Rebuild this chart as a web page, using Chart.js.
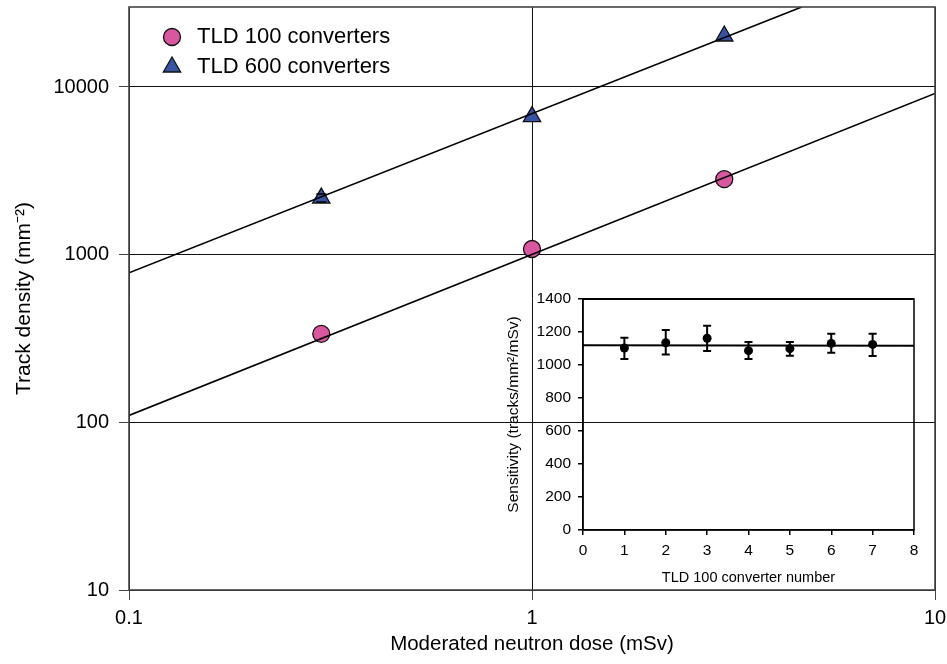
<!DOCTYPE html>
<html>
<head>
<meta charset="utf-8">
<script src="https://cdn.jsdelivr.net/npm/chart.js@4.4.1/dist/chart.umd.min.js"></script>
<style>
  html, body { margin: 0; padding: 0; background: #fff; }
  #wrap { position: relative; width: 947px; height: 664px; }
  #main { position: absolute; left: 0; top: 0; }
  #inset { position: absolute; left: 490px; top: 285px; }
</style>
</head>
<body>
<div id="wrap">
  <canvas id="main" width="947" height="664"></canvas>
  <canvas id="inset" width="440" height="310"></canvas>
</div>
<script>
// main chart data
const doses = [0.3, 1, 3];
const tld100 = [337, 1081, 2822];
const tld600 = [2175, 6660, 20140];
const tld600ErrLow = [2060, null, null];
const tld600ErrHigh = [2300, null, null];
const fit100Dose = [0.1, 10];
const fit100 = [110, 9150];
const fit600Dose = [0.1, 4.67];
const fit600 = [780, 30000];
const xTicks = [0.1, 1, 10];
const yTicks = [10, 100, 1000, 10000];

// inset data
const converters = [1, 2, 3, 4, 5, 6, 7];
const sensitivity = [1103, 1135, 1162, 1087, 1099, 1131, 1125];
const sensLow = [1036, 1063, 1085, 1036, 1056, 1075, 1054];
const sensHigh = [1165, 1212, 1238, 1139, 1139, 1190, 1190];
const sensFitX = [0, 8];
const sensFit = [1120, 1117];

const family = '"Liberation Sans", Arial, sans-serif';
Chart.defaults.font.family = family;
Chart.defaults.color = "#000";

function toPoints(xs, ys) {
  return xs.map((x, i) => ({ x: x, y: ys[i] }));
}

// keep the plot area where it is, whatever the end labels want
function noPad(s) {
  s.paddingTop = 0;
  s.paddingBottom = 0;
  s.paddingLeft = 0;
  s.paddingRight = 0;
}

// error bars, drawn from the dataset's errLow / errHigh through the y scale
function drawErrors(chart, behind) {
  const ctx = chart.ctx;
  const yScale = chart.scales.y;
  chart.data.datasets.forEach((ds, di) => {
    if (!ds.errLow || !!ds.errBehind !== behind) return;
    const meta = chart.getDatasetMeta(di);
    ctx.save();
    ctx.strokeStyle = "#000";
    ctx.lineWidth = ds.errWidth || 1.5;
    meta.data.forEach((pt, i) => {
      const lo = ds.errLow[i];
      const hi = ds.errHigh[i];
      if (lo == null) return;
      const x = pt.x;
      const y1 = yScale.getPixelForValue(lo);
      const y2 = yScale.getPixelForValue(hi);
      const c = ds.capHalf || 4;
      ctx.beginPath();
      if (ds.errStem !== false) {
        ctx.moveTo(x, y1);
        ctx.lineTo(x, y2);
      }
      ctx.moveTo(x - c, y1);
      ctx.lineTo(x + c, y1);
      ctx.moveTo(x - c, y2);
      ctx.lineTo(x + c, y2);
      ctx.stroke();
    });
    ctx.restore();
  });
}

const errorBars = {
  id: "errorBars",
  beforeDatasetsDraw(chart) { drawErrors(chart, true); },
  afterDatasetsDraw(chart) { drawErrors(chart, false); }
};

function boxPlugin(color, width, topWidth) {
  return {
    id: "box",
    afterDraw(chart) {
      const { ctx, chartArea: a } = chart;
      ctx.save();
      ctx.strokeStyle = color;
      ctx.lineWidth = width;
      ctx.strokeRect(a.left, a.top, a.right - a.left, a.bottom - a.top);
      if (topWidth) {
        ctx.lineWidth = topWidth;
        ctx.beginPath();
        ctx.moveTo(a.left, a.top);
        ctx.lineTo(a.right, a.top);
        ctx.stroke();
      }
      ctx.restore();
    }
  };
}

// legend in the upper left of the plot
const insideLegend = {
  id: "insideLegend",
  afterDraw(chart) {
    const ctx = chart.ctx;
    const items = [2, 3];
    ctx.save();
    ctx.font = "22px " + family;
    ctx.textBaseline = "middle";
    items.forEach((di, k) => {
      const ds = chart.data.datasets[di];
      const cx = 172;
      const cy = 37 + k * 30;
      ctx.fillStyle = ds.backgroundColor;
      ctx.strokeStyle = ds.borderColor;
      ctx.lineWidth = ds.borderWidth;
      ctx.beginPath();
      if (ds.pointStyle === "triangle") {
        const r = ds.pointRadius;
        for (let j = 0; j < 3; j++) {
          const ang = j * 2 * Math.PI / 3;
          const px = cx + Math.sin(ang) * r;
          const py = cy - Math.cos(ang) * r;
          if (j === 0) ctx.moveTo(px, py); else ctx.lineTo(px, py);
        }
        ctx.closePath();
      } else {
        ctx.arc(cx, cy, ds.pointRadius, 0, Math.PI * 2);
      }
      ctx.fill();
      ctx.stroke();
      ctx.fillStyle = "#000";
      ctx.fillText(ds.label, 197, cy);
    });
    ctx.restore();
  }
};

new Chart(document.getElementById("main"), {
  type: "scatter",
  data: {
    datasets: [
      {
        label: "fit TLD 100",
        data: toPoints(fit100Dose, fit100),
        showLine: true,
        borderColor: "#000",
        borderWidth: 1.6,
        pointRadius: 0
      },
      {
        label: "fit TLD 600",
        data: toPoints(fit600Dose, fit600),
        showLine: true,
        borderColor: "#000",
        borderWidth: 1.6,
        pointRadius: 0
      },
      {
        label: "TLD 100 converters",
        data: toPoints(doses, tld100),
        pointStyle: "circle",
        pointRadius: 8.5,
        backgroundColor: "#D8579F",
        borderColor: "#111",
        borderWidth: 1.3
      },
      {
        label: "TLD 600 converters",
        data: toPoints(doses, tld600),
        pointStyle: "triangle",
        pointRadius: 10,
        backgroundColor: "#3754A4",
        borderColor: "#111",
        borderWidth: 1.3,
        errLow: tld600ErrLow,
        errHigh: tld600ErrHigh,
        errStem: false,
        capHalf: 5
      }
    ]
  },
  options: {
    responsive: false,
    animation: false,
    devicePixelRatio: 1,
    layout: { autoPadding: false, padding: { top: 7, right: 12, left: 0, bottom: 0 } },
    plugins: { legend: { display: false }, tooltip: { enabled: false } },
    scales: {
      x: {
        type: "logarithmic",
        min: 0.1,
        max: 10,
        afterBuildTicks: (s) => { s.ticks = xTicks.map((v) => ({ value: v })); },
        afterFit: (s) => { s.height = 74; noPad(s); },
        ticks: {
          callback: (v) => String(v),
          font: { size: 20 },
          padding: 6,
          maxRotation: 0,
          autoSkip: false
        },
        grid: { color: "#111", lineWidth: 1, tickLength: 10, tickColor: "#444" },
        border: { display: false },
        title: {
          display: true,
          text: "Moderated neutron dose (mSv)",
          font: { size: 20.5 },
          padding: { top: 0, bottom: 7 }
        }
      },
      y: {
        type: "logarithmic",
        min: 10,
        max: 30000,
        afterBuildTicks: (s) => { s.ticks = yTicks.map((v) => ({ value: v })); },
        afterFit: (s) => { s.width = 129; noPad(s); },
        ticks: {
          callback: (v) => String(v),
          font: { size: 20 },
          padding: 10,
          autoSkip: false
        },
        grid: { color: "#111", lineWidth: 1, tickLength: 10, tickColor: "#444" },
        border: { display: false },
        title: {
          display: true,
          text: "Track density (mm\u207B\u00B2)",
          font: { size: 21 },
          padding: { top: 12, bottom: 0 }
        }
      }
    }
  },
  plugins: [errorBars, boxPlugin("#444", 1.6), insideLegend]
});

new Chart(document.getElementById("inset"), {
  type: "scatter",
  data: {
    datasets: [
      {
        label: "fit",
        data: toPoints(sensFitX, sensFit),
        showLine: true,
        borderColor: "#000",
        borderWidth: 2,
        pointRadius: 0
      },
      {
        label: "Sensitivity",
        data: toPoints(converters, sensitivity),
        pointRadius: 4.5,
        backgroundColor: "#000",
        borderColor: "#000",
        borderWidth: 0,
        errLow: sensLow,
        errHigh: sensHigh,
        errWidth: 2,
        capHalf: 4
      }
    ]
  },
  options: {
    responsive: false,
    animation: false,
    devicePixelRatio: 1,
    layout: { autoPadding: false, padding: { top: 14, right: 16, left: 0, bottom: 0 } },
    plugins: { legend: { display: false }, tooltip: { enabled: false } },
    scales: {
      x: {
        type: "linear",
        min: 0,
        max: 8,
        afterFit: (s) => { s.height = 65; noPad(s); },
        ticks: { stepSize: 1, font: { size: 15.5 }, padding: 6, maxRotation: 0, callback: (v) => String(v) },
        grid: { drawOnChartArea: false, tickLength: 5, color: "#000", lineWidth: 1.5 },
        border: { color: "#000", width: 1.5 },
        title: {
          display: true,
          text: "TLD 100 converter number",
          font: { size: 14.5 },
          padding: { top: 0, bottom: 8 }
        }
      },
      y: {
        type: "linear",
        min: 0,
        max: 1400,
        afterFit: (s) => { s.width = 93; noPad(s); },
        ticks: { stepSize: 200, font: { size: 15.5 }, padding: 7, callback: (v) => String(v) },
        grid: { drawOnChartArea: false, tickLength: 5, color: "#000", lineWidth: 1.5 },
        border: { color: "#000", width: 1.5 },
        title: {
          display: true,
          text: "Sensitivity (tracks/mm\u00B2/mSv)",
          font: { size: 15.5 },
          padding: { top: 14, bottom: 0 }
        }
      }
    }
  },
  plugins: [errorBars, boxPlugin("#000", 1.5, 2.2)]
});
</script>
</body>
</html>
